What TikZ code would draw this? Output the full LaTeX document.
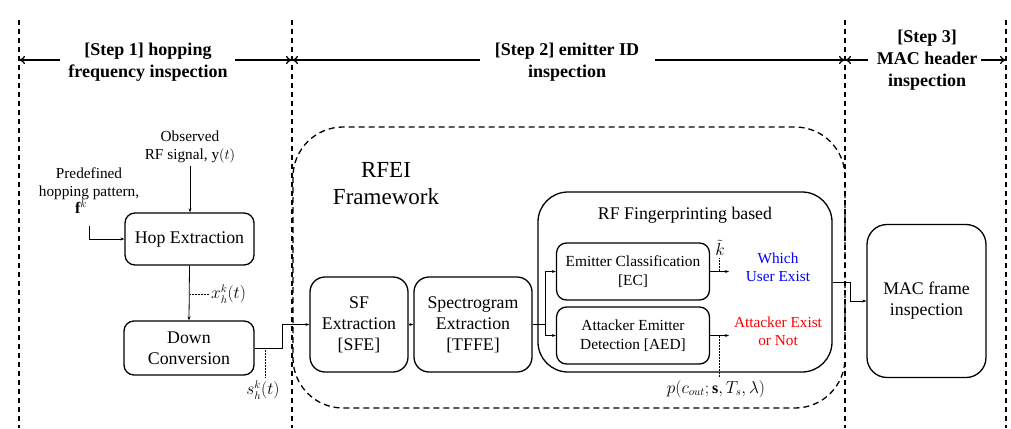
\documentclass[tikz,border=0pt]{standalone}
\usepackage{fontspec}
\setmainfont{Liberation Serif}
\usetikzlibrary{arrows.meta}
\begin{document}
\begin{tikzpicture}[x=1pt,y=-1pt,
  box/.style={draw,line width=1.3pt,rounded corners=10pt,align=center,inner sep=0pt,font=\fontsize{17.8}{21}\selectfont},
  sbox/.style={box,font=\fontsize{15.4}{19}\selectfont},
  lbl/.style={align=center,inner sep=0pt,font=\fontsize{15.3}{18.5}\selectfont},
  mlbl/.style={inner sep=0pt,font=\fontsize{16}{19}\selectfont},
  steplbl/.style={align=center,inner sep=0pt,font=\bfseries\fontsize{18}{22}\selectfont},
  vdash/.style={line width=1.1pt,dash pattern=on 5pt off 4pt},
  conn/.style={line width=0.8pt,-{Stealth[length=4pt,width=3pt]}},
  plain/.style={line width=0.8pt},
  dotl/.style={line width=0.5pt,densely dotted},
  steparrow/.style={line width=1.3pt,-{To[length=6pt,width=8pt]}}
]
\useasboundingbox (0,0) rectangle (1011,428);
% vertical dashed separators
\coordinate (v1t) at (19,20); \coordinate (v1b) at (19,428);
\coordinate (v2t) at (292,20); \coordinate (v2b) at (292,428);
\coordinate (v3t) at (845,20); \coordinate (v3b) at (845,428);
\coordinate (v4t) at (1006,20); \coordinate (v4b) at (1006,428);
\draw[vdash] (v1t) -- (v1b);
\draw[vdash] (v2t) -- (v2b);
\draw[vdash] (v3t) -- (v3b);
\draw[vdash] (v4t) -- (v4b);
% step labels
\node[steplbl] (s1) at (148,62) {[Step 1] hopping\\frequency inspection};
\node[steplbl] (s2) at (567,62) {[Step 2] emitter ID\\inspection};
\node[steplbl] (s3) at (927,60) {[Step 3]\\MAC header\\inspection};
\coordinate (a1l) at (19,60); \coordinate (a1r) at (292,60);
\coordinate (a2l) at (292,60); \coordinate (a2r) at (845,60);
\coordinate (a3l) at (845,60); \coordinate (a3r) at (1006,60);
\draw[steparrow] (60,60) -- (a1l);
\draw[steparrow] (235,60) -- (a1r);
\draw[steparrow] (480,60) -- (a2l);
\draw[steparrow] (655,60) -- (a2r);
\draw[steparrow] (868,60) -- (a3l);
\draw[steparrow] (981,60) -- (a3r);
% RFEI frame
\draw[line width=1.3pt,dash pattern=on 6pt off 4pt,rounded corners=50pt] (293,127) rectangle (845,408);
\node[align=center,inner sep=0pt,font=\fontsize{23}{27}\selectfont] (rfei) at (386,184) {RFEI\\Framework};
% Step 1 blocks
\node[box,minimum width=129pt,minimum height=52pt] (hop) at (189.5,239) {Hop Extraction};
\node[box,minimum width=130pt,minimum height=54pt] (down) at (189,348) {Down\\Conversion};
\node[lbl] (obs) at (190,147) {Observed\\RF signal, $\mathrm{y}(t)$};
\node[lbl] (pre) at (89,184) {Predefined\\hopping pattern,};
\node[mlbl] (fk) at (81,207) {$\mathbf{f}^k$};
\coordinate (obsb) at (190,166);
\draw[conn] (obsb) -- (hop.north -| obsb);
\coordinate (fkb) at (89,226);
\draw[conn] (fkb) |- (hop.west);
\draw[conn] (hop.south) -- (down.north);
\coordinate (xd) at (190,294);
\draw[dotl] (xd) -- (209,294);
\node[mlbl,anchor=west] (xl) at (211,294) {$x_h^k(t)$};
% Step 2 blocks
\node[box,rounded corners=15pt,minimum width=98pt,minimum height=95pt] (sfe) at (359,324.5) {SF\\Extraction\\{[SFE]}};
\node[box,rounded corners=15pt,minimum width=118pt,minimum height=95pt] (tffe) at (473,324.5) {Spectrogram\\Extraction\\{[TFFE]}};
\coordinate (dj) at (282,348);
\draw[conn] (down.east) -- (dj) |- (sfe.west);
\coordinate (sd) at (265,348);
\draw[dotl] (sd) -- (265,377);
\node[mlbl] (sl) at (263,390) {$s_h^k(t)$};
\draw[conn] (sfe.east) -- (tffe.west);
% RF fingerprinting
\node[draw,line width=1.3pt,rounded corners=30pt,minimum width=294pt,minimum height=180pt,inner sep=0pt] (rf) at (685,282) {};
\node[box,draw=none] (rft) at (685,215) {RF Fingerprinting based};
\node[sbox,minimum width=153pt,minimum height=57pt] (ec) at (633,271.5) {Emitter Classification\\{[EC]}};
\node[sbox,minimum width=153pt,minimum height=57pt] (aed) at (633,335.5) {Attacker Emitter\\Detection [AED]};
\coordinate (br) at (545,324.5);
\draw[plain] (tffe.east) -- (br);
\draw[conn] (br) |- (ec.west);
\draw[conn] (br) |- (aed.west);
\coordinate (eco) at (729,271.5);
\coordinate (aedo) at (729,335.5);
\draw[conn] (ec.east) -- (eco);
\draw[conn] (aed.east) -- (aedo);
\draw[dotl] (719,258) -- (719,271.5);
\node[mlbl] (kt) at (720,248) {$\tilde{k}$};
\draw[dotl] (719,335.5) -- (719,377);
\node[mlbl] (pl) at (716,389) {$p(c_{out};\mathbf{s},T_s,\lambda)$};
\node[lbl,text=blue] (which) at (778,267.5) {Which\\User Exist};
\node[lbl,text=red] (att) at (778,331.5) {Attacker Exist\\or Not};
% MAC
\node[box,rounded corners=20pt,minimum width=119pt,minimum height=153pt] (mac) at (926.5,301) {MAC frame\\inspection};
\coordinate (mj) at (850,282);
\draw[conn] (rf.east) -- (mj) |- (mac.west);
\end{tikzpicture}
\end{document}
